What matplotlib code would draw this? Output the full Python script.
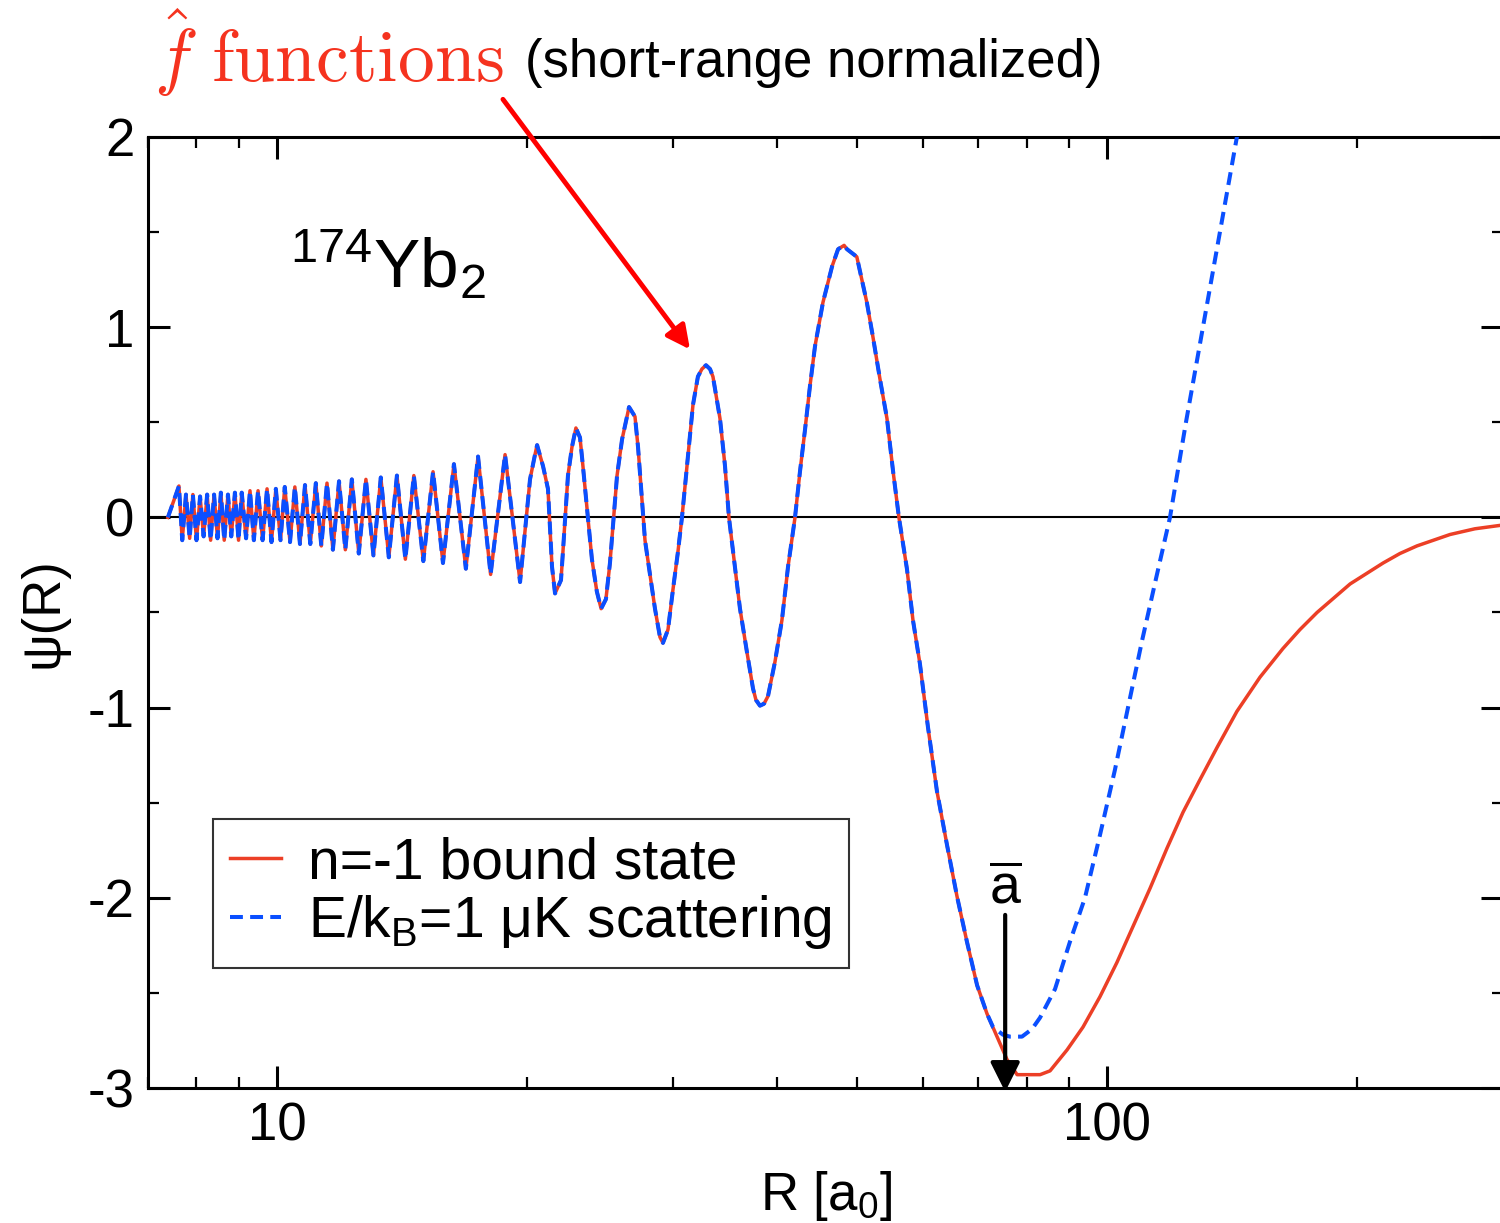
import numpy as np
import matplotlib.pyplot as plt
from matplotlib.ticker import FixedLocator, NullFormatter, FixedFormatter

plt.rcParams['font.family'] = ['Liberation Sans', 'DejaVu Sans']
plt.rcParams['mathtext.fontset'] = 'custom'
plt.rcParams['mathtext.rm'] = 'Liberation Sans'
plt.rcParams['mathtext.it'] = 'Liberation Sans:italic'
plt.rcParams['mathtext.bf'] = 'Liberation Sans:bold'
plt.rcParams['axes.unicode_minus'] = False

# both curves coincide (short-range normalized) up to ~72 a0
r_common = [7.39, 7.62, 7.69, 7.77, 7.85, 7.92, 8.00, 8.08, 8.16, 8.24, 8.32,
            8.40, 8.48, 8.56, 8.64, 8.73, 8.81, 8.90, 8.99, 9.07, 9.18, 9.28,
            9.38, 9.49, 9.61, 9.73, 9.85, 9.97, 10.10, 10.22, 10.37, 10.51,
            10.66, 10.81, 10.97, 11.14, 11.31, 11.49, 11.68, 11.88, 12.09,
            12.31, 12.55, 12.80, 13.07, 13.34, 13.64, 13.95, 14.28, 14.62,
            15.01, 15.42, 15.85, 16.34, 16.89, 17.47, 18.09, 18.83, 19.63,
            20.18, 20.46, 20.58, 20.92, 21.21, 21.45, 21.63, 21.99, 22.11,
            22.42, 22.67, 22.92, 23.18, 23.37, 23.96, 24.29, 24.58, 24.91,
            25.19, 25.69, 26.05, 26.56, 27.00, 27.23, 27.76, 28.15, 28.54,
            28.94, 29.18, 29.59, 30.00, 30.42, 30.76, 31.19, 31.71, 32.15,
            32.51, 32.88, 33.25, 33.52, 34.18, 34.66, 35.04, 35.63, 36.13,
            36.84, 37.46, 37.77, 38.19, 38.62, 39.05, 39.81, 40.59, 41.28,
            42.09, 42.67, 43.27, 43.87, 44.49, 45.48, 46.65, 47.43, 48.23,
            48.62, 49.96, 51.37, 52.24, 53.26, 54.32, 55.22, 56.15, 57.41,
            58.38, 59.52, 60.85, 62.40, 64.15, 65.95, 67.80, 69.75, 71.70]
psi_common = [0.0, 0.165, -0.12, 0.12, -0.11, 0.12, -0.12, 0.11, -0.10, 0.12, -0.12,
              0.12, -0.11, 0.13, -0.12, 0.12, -0.10, 0.13, -0.12, 0.13, -0.11, 0.14,
              -0.12, 0.14, -0.12, 0.15, -0.13, 0.15, -0.12, 0.16, -0.13, 0.16,
              -0.14, 0.17, -0.14, 0.18, -0.15, 0.18, -0.17, 0.19, -0.17,
              0.20, -0.19, 0.20, -0.20, 0.21, -0.21, 0.22, -0.22, 0.22,
              -0.23, 0.24, -0.24, 0.28, -0.27, 0.32, -0.30, 0.33, -0.34,
              0.20, 0.33, 0.38, 0.27, 0.15, -0.26, -0.40, -0.33, -0.18,
              0.22, 0.37, 0.47, 0.42, 0.27, -0.22, -0.39, -0.48, -0.43,
              -0.24, 0.22, 0.41, 0.58, 0.53, 0.37, -0.12, -0.30, -0.48,
              -0.63, -0.66, -0.59, -0.38, -0.18, 0.0, 0.27, 0.59, 0.74,
              0.78, 0.80, 0.78, 0.74, 0.52, 0.27, 0.0, -0.26, -0.48,
              -0.71, -0.90, -0.96, -0.99, -0.98, -0.94, -0.76, -0.54, -0.26,
              0.0, 0.24, 0.46, 0.69, 0.90, 1.13, 1.32, 1.41, 1.43,
              1.41, 1.37, 1.13, 0.95, 0.73, 0.52, 0.25, 0.0, -0.27,
              -0.54, -0.77, -1.10, -1.44, -1.72, -1.99, -2.23, -2.46, -2.61]

# n=-1 bound state beyond the split
r_bound = [73.72, 75.78, 77.93, 83.06, 85.39, 89.51, 93.56, 98.08, 102.8, 107.5,
           112.7, 118.1, 123.5, 129.4, 135.7, 143.4, 152.9, 162.9, 170.8, 179.1,
           196.3, 215.1, 225.4, 236.3, 259.0, 277.5, 300.0]
psi_bound = [-2.73, -2.85, -2.93, -2.93, -2.91, -2.80, -2.68, -2.52, -2.34, -2.15,
             -1.95, -1.74, -1.55, -1.38, -1.21, -1.02, -0.84, -0.69, -0.59, -0.50,
             -0.35, -0.24, -0.19, -0.15, -0.09, -0.06, -0.04]

# E/kB = 1 uK scattering state beyond the split
r_scat = [72.9, 74.94, 76.40, 79.0, 81.24, 83.06, 86.58, 90.26, 94.08, 98.08,
          102.2, 106.0, 110.2, 114.6, 119.1, 124.5, 130.5, 136.8, 143.4, 146.7]
psi_scat = [-2.68, -2.72, -2.73, -2.73, -2.69, -2.63, -2.48, -2.23, -2.00, -1.67,
            -1.33, -1.00, -0.65, -0.32, 0.0, 0.50, 1.00, 1.50, 2.00, 2.23]

x_major = [10, 100]
x_minor = [7, 8, 9, 20, 30, 40, 50, 60, 70, 80, 90, 200, 300]
y_major = [-3, -2, -1, 0, 1, 2]
y_minor = [-2.5, -1.5, -0.5, 0.5, 1.5]
abar_r = 75.4

red = '#ec3f26'
blue = '#0a4fff'

fig = plt.figure(figsize=(15, 12.23), dpi=100)
ax = fig.add_axes([0.0989, 0.1104, 0.9031, 0.7776])

ax.axhline(0, color='black', lw=1.5, zorder=1)
ax.plot(r_common + r_bound, psi_common + psi_bound, color=red, lw=2.5,
        label='n=-1 bound state', zorder=2)
ax.plot(r_common + r_scat, psi_common + psi_scat, color=blue, lw=2.9,
        dashes=(3.2, 1.8), label=r'E/k$_\mathrm{B}$=1 μK scattering', zorder=3)

ax.set_xscale('log')
ax.set_xlim(7, 300)
ax.set_ylim(-3, 2)

ax.xaxis.set_major_locator(FixedLocator(x_major))
ax.xaxis.set_major_formatter(FixedFormatter([str(v) for v in x_major]))
ax.xaxis.set_minor_locator(FixedLocator(x_minor))
ax.xaxis.set_minor_formatter(NullFormatter())
ax.yaxis.set_major_locator(FixedLocator(y_major))
ax.yaxis.set_minor_locator(FixedLocator(y_minor))
ax.set_yticklabels([str(v) for v in y_major])

ax.tick_params(which='both', direction='in', top=True, right=True, labelsize=38)
ax.tick_params(which='major', length=16, width=2.2, pad=10)
ax.tick_params(which='minor', length=8, width=1.6)
for s in ax.spines.values():
    s.set_linewidth(2.2)

ax.set_xlabel(r'R [a$_0$]', fontsize=38, labelpad=12)
ax.set_ylabel('ψ(R)', fontsize=38, labelpad=14)

leg = ax.legend(loc='lower left', bbox_to_anchor=(0.0477, 0.126), fontsize=41,
                frameon=True, fancybox=False, handlelength=0.9, handletextpad=0.47,
                borderpad=0.3, labelspacing=0.05, borderaxespad=0)
leg.get_frame().set_edgecolor('black')
leg.get_frame().set_linewidth(1.5)

# a-bar marker with arrow
ax.annotate('', xy=(abar_r, -3.02), xytext=(abar_r, -2.09),
            arrowprops=dict(arrowstyle='-|>', color='black', lw=3,
                            mutation_scale=45, shrinkA=0, shrinkB=0),
            annotation_clip=False)
ax.text(abar_r, -2.03, r'$\overline{\mathrm{a}}$', fontsize=40, ha='center', va='baseline')

fig.text(0.193, 0.7645, r'$^{174}$Yb$_2$', fontsize=50, ha='left', va='baseline')

# title with arrow
fig.text(0.103, 0.933, r'$\hat{f}\ \mathrm{functions}$', fontsize=53, color='#f5331f',
         math_fontfamily='cm', ha='left', va='baseline')
fig.text(0.350, 0.937, '(short-range normalized)', fontsize=38, ha='left', va='baseline')
ax.annotate('', xy=(31.45, 0.883), xytext=(18.72, 2.198),
            arrowprops=dict(arrowstyle='-|>', color='red', lw=3.5,
                            mutation_scale=35, shrinkA=0, shrinkB=0),
            annotation_clip=False)

fig.savefig('out.png', dpi=100)
